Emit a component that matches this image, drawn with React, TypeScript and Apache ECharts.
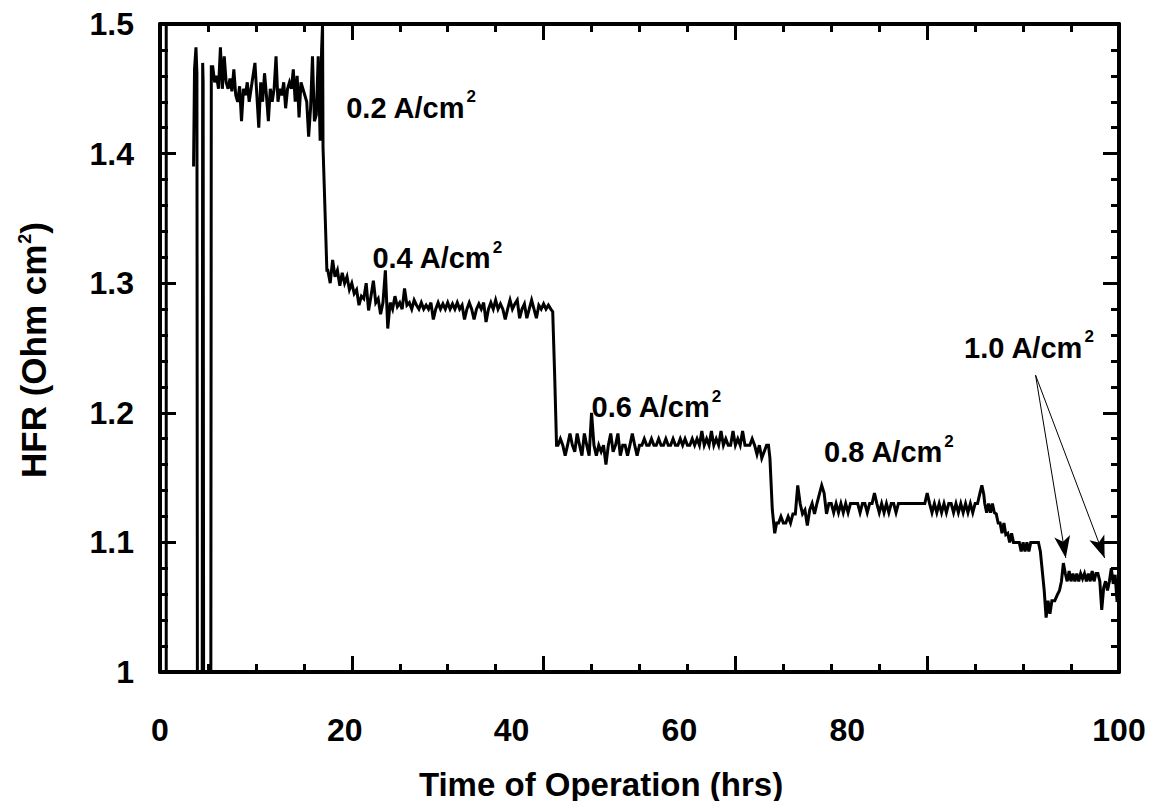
import React, { useEffect, useRef } from 'react';
import * as echarts from 'echarts';

// ---------------- data ----------------
const xTickLabels = ['0', '20', '40', '60', '80', '100'];
// horizontal shift (px) of each bottom tick label relative to its tick, as in the original figure
const xTickLabelShift = [0, -7, -32, -56, -80, 0];

// spurious full-height trace at the very start
const glitch: [number, number][] = [[0.65, 1.0], [0.65, 1.5]];

// start-up spikes
const startup: [number, number][] = [
  [3.5, 1.39], [3.6, 1.465], [3.75, 1.482], [3.85, 1.462], [3.9, 0.98], [4.4, 0.98],
  [4.45, 1.47], [4.5, 1.455], [4.55, 0.98], [5.3, 0.98], [5.35, 1.467],
];

// 0.2 A/cm2 plateau, sampled every 0.2 h from 5.5 h
const hfr02 = [
  1.467, 1.455, 1.46, 1.45, 1.482,
  1.45, 1.475, 1.455, 1.45, 1.458,
  1.448, 1.465, 1.445, 1.44, 1.452,
  1.425, 1.45, 1.445, 1.455, 1.44,
  1.45, 1.46, 1.47, 1.445, 1.42,
  1.455, 1.44, 1.462, 1.445, 1.425,
  1.45, 1.44, 1.45, 1.475, 1.44,
  1.45, 1.445, 1.455, 1.435, 1.45,
  1.455, 1.45, 1.465, 1.44, 1.46,
  1.428, 1.455, 1.45, 1.445, 1.44,
  1.413, 1.435, 1.475, 1.425, 1.43,
  1.475, 1.41,
];
const step02to04: [number, number][] = [[16.85, 1.48], [16.95, 1.5], [17.0, 1.405], [17.4, 1.31]];

// 0.4 A/cm2 plateau, sampled every 0.25 h from 17.5 h
const hfr04 = [
  1.31, 1.30, 1.318, 1.305,
  1.31, 1.298, 1.308, 1.30,
  1.305, 1.295, 1.30, 1.292,
  1.295, 1.283, 1.29, 1.288,
  1.30, 1.279, 1.29, 1.302,
  1.285, 1.288, 1.276, 1.285,
  1.31, 1.265, 1.285, 1.28,
  1.29, 1.282, 1.285, 1.28,
  1.296, 1.283, 1.285, 1.28,
  1.287, 1.283, 1.28, 1.285,
  1.28, 1.283, 1.28, 1.285,
  1.272, 1.28, 1.285, 1.28,
  1.284, 1.28, 1.285, 1.28,
  1.284, 1.28, 1.285, 1.28,
  1.283, 1.272, 1.28, 1.285,
  1.28, 1.272, 1.28, 1.284,
  1.28, 1.285, 1.27, 1.28,
  1.285, 1.28, 1.287, 1.28,
  1.284, 1.28, 1.272, 1.28,
  1.287, 1.28, 1.284, 1.287,
  1.273, 1.28, 1.284, 1.273,
  1.28, 1.287, 1.28, 1.273,
  1.283, 1.28, 1.284, 1.28,
  1.283, 1.28,
];
const step04to06: [number, number][] = [[40.95, 1.278], [41.15, 1.23], [41.35, 1.175]];

// 0.6 A/cm2 plateau, sampled every 0.25 h from 41.5 h
const hfr06 = [
  1.175, 1.18, 1.175, 1.167,
  1.175, 1.184, 1.175, 1.17,
  1.184, 1.175, 1.167, 1.184,
  1.175, 1.167, 1.2, 1.175,
  1.167, 1.175, 1.17, 1.175,
  1.16, 1.175, 1.184, 1.17,
  1.175, 1.184, 1.167, 1.175,
  1.175, 1.167, 1.175, 1.184,
  1.175, 1.167, 1.175, 1.175,
  1.18, 1.175, 1.175, 1.18,
  1.175, 1.175, 1.18, 1.175,
  1.175, 1.18, 1.175, 1.175,
  1.18, 1.175, 1.175, 1.18,
  1.175, 1.18, 1.175, 1.175,
  1.18, 1.175, 1.18, 1.175,
  1.186, 1.175, 1.18, 1.175,
  1.186, 1.175, 1.18, 1.175,
  1.186, 1.175, 1.18, 1.175,
  1.175, 1.186, 1.175, 1.18,
  1.175, 1.186, 1.175, 1.175,
  1.175, 1.18, 1.175, 1.168,
  1.175, 1.165, 1.17, 1.175,
];
const step06to08: [number, number][] = [[63.45, 1.175], [63.6, 1.165], [63.85, 1.125], [64.1, 1.107], [64.3, 1.115]];

// 0.8 A/cm2 plateau, sampled every 0.25 h from 64.5 h
const hfr08 = [
  1.115, 1.12, 1.115, 1.115,
  1.12, 1.115, 1.122, 1.122,
  1.144, 1.13, 1.122, 1.125,
  1.113, 1.125, 1.13, 1.122,
  1.13, 1.137, 1.144, 1.138,
  1.122, 1.13, 1.13, 1.123,
  1.13, 1.123, 1.13, 1.123,
  1.13, 1.123, 1.13, 1.13,
  1.13, 1.13, 1.123, 1.13,
  1.13, 1.123, 1.13, 1.13,
  1.138, 1.13, 1.123, 1.13,
  1.123, 1.13, 1.123, 1.13,
  1.13, 1.123, 1.13, 1.13,
  1.13, 1.13, 1.13, 1.13,
  1.13, 1.13, 1.13, 1.13,
  1.13, 1.13, 1.138, 1.13,
  1.123, 1.13, 1.123, 1.13,
  1.123, 1.13, 1.123, 1.13,
  1.13, 1.123, 1.13, 1.123,
  1.13, 1.123, 1.13, 1.123,
  1.13, 1.123, 1.13, 1.13,
];
// decline from the 0.8 plateau into 1.0 A/cm2
const decline08to10: [number, number][] = [
  [85.5, 1.138], [85.7, 1.144], [85.9, 1.137],
  [86.0, 1.13], [86.2, 1.123], [86.4, 1.13], [86.6, 1.123], [86.8, 1.13], [87.0, 1.123],
  [87.2, 1.122], [87.4, 1.115], [87.6, 1.115], [87.8, 1.107], [88.0, 1.115], [88.2, 1.106],
  [88.4, 1.107], [88.6, 1.1], [88.8, 1.107], [89.0, 1.1], [89.2, 1.1], [89.4, 1.1],
  [89.6, 1.1], [89.8, 1.093], [90.0, 1.1], [90.2, 1.093], [90.4, 1.1], [90.6, 1.093],
  [90.8, 1.1], [91.0, 1.1], [91.3, 1.1], [91.6, 1.1], [91.8, 1.093], [92.2, 1.063],
  [92.4, 1.042], [92.6, 1.055], [92.8, 1.045], [93.0, 1.055], [93.3, 1.055], [93.6, 1.06],
  [93.8, 1.063], [94.0, 1.07], [94.2, 1.084],
];
// 1.0 A/cm2 plateau, sampled every 0.2 h from 94.4 h
const hfr10 = [
  1.076, 1.07, 1.078, 1.07, 1.076,
  1.07, 1.076, 1.07, 1.076, 1.072,
  1.076, 1.07, 1.076, 1.07, 1.078,
  1.07, 1.076, 1.076, 1.07, 1.048,
  1.065, 1.07, 1.063, 1.07, 1.08,
  1.068, 1.075, 1.054, 1.07,
];

// annotation texts and their anchor (time, HFR) – left edge / vertical middle
const annoText = ['0.2', '0.4', '0.6', '0.8', '1.0'];
const annoT = [19.47, 22.2, 45.05, 69.3, 83.9];
const annoV = [1.435, 1.319, 1.204, 1.169, 1.250];
// arrows from the 1.0 A/cm2 label
const arrowFrom: [number, number] = [91.3, 1.229];
const arrowTo: [number, number][] = [[94.45, 1.088], [98.5, 1.088]];

const seg = (start: number, step: number, vals: number[]): [number, number][] =>
  vals.map((v, i) => [Math.round((start + i * step) * 1000) / 1000, v]);

const FONT = '"Liberation Sans", Arial, Helvetica, sans-serif';

export default function App() {
  const ref = useRef<HTMLDivElement>(null);
  useEffect(() => {
    if (!ref.current) return;
    const chart = echarts.init(ref.current, undefined, { renderer: 'svg' });

    const mainData: [number, number][] = [
      ...startup,
      ...seg(5.5, 0.2, hfr02),
      ...step02to04,
      ...seg(17.5, 0.25, hfr04),
      ...step04to06,
      ...seg(41.5, 0.25, hfr06),
      ...step06to08,
      ...seg(64.5, 0.25, hfr08),
      ...decline08to10,
      ...seg(94.4, 0.2, hfr10),
    ];

    const axisLine = { show: true, onZero: false, lineStyle: { color: '#000', width: 4 } };
    const axisTick = { show: true, inside: true, length: 16, lineStyle: { color: '#000', width: 3 } };
    const minorTickStyle = { color: '#000', width: 3 };

    const xRich: Record<string, any> = {};
    xTickLabelShift.forEach((s, i) => {
      xRich['p' + i] = {
        fontSize: 32, fontWeight: 'bold', fontFamily: FONT, color: '#000',
        padding: s >= 0 ? [0, 0, 0, 2 * s] : [0, -2 * s, 0, 0],
      };
    });

    const supRich = (size: number, sup: number, raise: number) => ({
      a: { fontSize: size, fontWeight: 'bold', fontFamily: FONT, color: '#000' },
      s: { fontSize: sup, fontWeight: 'bold', fontFamily: FONT, color: '#000', padding: [0, 0, raise, 1] },
    });

    const titles = [
      {
        type: 'text', x: 601, y: 784, silent: true,
        style: {
          text: 'Time of Operation (hrs)', fill: '#000',
          fontSize: 33, fontWeight: 'bold', fontFamily: FONT,
          align: 'center', verticalAlign: 'middle',
        },
      },
      {
        type: 'text', x: 33, y: 350, rotation: Math.PI / 2, silent: true,
        style: {
          text: '{a|HFR (Ohm cm}{s|2}{a|)}',
          rich: supRich(35, 18, 16),
          align: 'center', verticalAlign: 'middle',
        },
      },
    ];

    const option: any = {
      animation: false,
      backgroundColor: '#ffffff',
      grid: { left: 160, right: 36, top: 24, bottom: 129, containLabel: false, outerBoundsMode: 'none' },
      xAxis: [
        {
          type: 'value', min: 0, max: 100, interval: 20, position: 'bottom',
          axisLine, axisTick,
          minorTick: { show: true, splitNumber: 4, length: 8, lineStyle: minorTickStyle },
          splitLine: { show: false }, minorSplitLine: { show: false },
          axisLabel: {
            show: true, margin: 42, fontSize: 32, fontWeight: 'bold', fontFamily: FONT, color: '#000',
            formatter: (v: number) => {
              const i = Math.round(v / 20);
              return `{p${i}|${xTickLabels[i]}}`;
            },
            rich: xRich,
          },
        },
        {
          type: 'value', min: 0, max: 100, interval: 20, position: 'top',
          axisLine, axisTick,
          minorTick: { show: true, splitNumber: 4, length: 8, lineStyle: minorTickStyle },
          splitLine: { show: false }, minorSplitLine: { show: false },
          axisLabel: { show: false },
        },
      ],
      yAxis: [
        {
          type: 'value', min: 1, max: 1.5, interval: 0.1, position: 'left',
          axisLine, axisTick,
          minorTick: { show: true, splitNumber: 5, length: 8, lineStyle: minorTickStyle },
          splitLine: { show: false }, minorSplitLine: { show: false },
          axisLabel: {
            show: true, margin: 26, fontSize: 32, fontWeight: 'bold', fontFamily: FONT, color: '#000',
            formatter: (v: number) => String(Math.round(v * 10) / 10),
          },
        },
        {
          type: 'value', min: 1, max: 1.5, interval: 0.1, position: 'right',
          axisLine, axisTick,
          minorTick: { show: true, splitNumber: 5, length: 8, lineStyle: minorTickStyle },
          splitLine: { show: false }, minorSplitLine: { show: false },
          axisLabel: { show: false },
        },
      ],
      series: [
        {
          name: 'HFR', type: 'line', data: mainData, symbol: 'none', showSymbol: false,
          lineStyle: { color: '#000', width: 3, join: 'miter' }, clip: true, silent: true,
          markPoint: {
            silent: true,
            symbol: 'circle', symbolSize: 1,
            itemStyle: { color: 'rgba(0,0,0,0)' },
            label: {
              show: true, position: [0, 0], align: 'left', verticalAlign: 'middle',
              formatter: (p: any) => `{a|${p.name} A/cm}{s|2}`,
              rich: supRich(29, 17, 22),
            },
            data: annoText.map((t, i) => ({ name: t, coord: [annoT[i], annoV[i]] })),
          },
          markLine: {
            silent: true,
            symbol: ['none', 'arrow'],
            symbolSize: [12, 22],
            lineStyle: { color: '#000', width: 1, type: 'solid' },
            label: { show: false },
            emphasis: { disabled: true },
            data: arrowTo.map((to) => [{ coord: arrowFrom }, { coord: to }]),
          },
        },
      ],
      graphic: titles,
    };
    chart.setOption(option);

    // spurious trace, placed through the chart's own scales
    const p0 = chart.convertToPixel({ xAxisIndex: 0, yAxisIndex: 0 }, glitch[0]) as number[];
    const p1 = chart.convertToPixel({ xAxisIndex: 0, yAxisIndex: 0 }, glitch[1]) as number[];
    chart.setOption({
      graphic: [
        ...titles,
        {
          type: 'line', silent: true, z: 50,
          shape: { x1: p0[0], y1: p0[1], x2: p1[0], y2: p1[1] },
          style: { stroke: '#000', lineWidth: 3 },
        },
      ],
    });
    return () => chart.dispose();
  }, []);
  return <div ref={ref} style={{ position: 'fixed', left: 0, top: 0, width: 1155, height: 801, background: '#fff' }} />;
}
